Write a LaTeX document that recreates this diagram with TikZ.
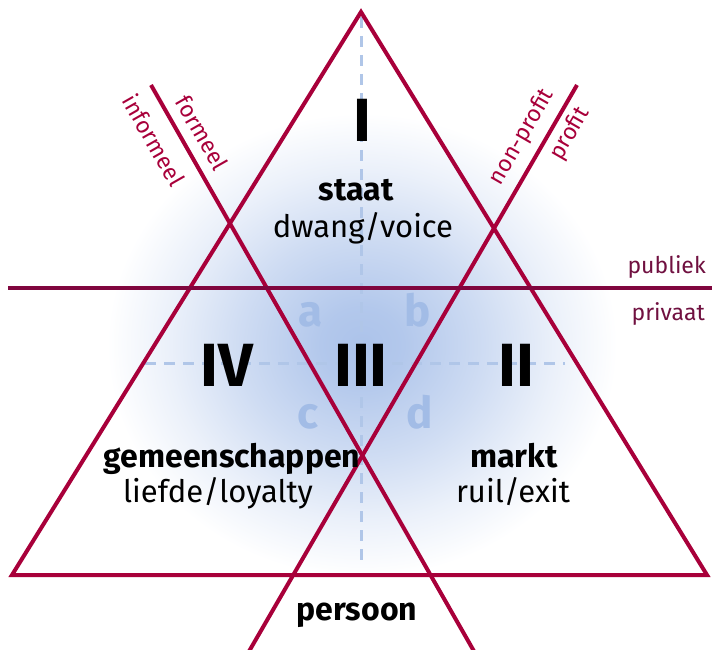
\documentclass[tikz,border=0pt]{standalone}
\usepackage{fontspec}
\setmainfont{Fira Sans}
\definecolor{crim}{RGB}{168,0,58}
\definecolor{hline}{RGB}{128,6,62}
\definecolor{labc}{RGB}{112,16,64}
\definecolor{dashc}{RGB}{176,198,232}
\definecolor{glowc}{RGB}{172,195,234}
\definecolor{letc}{RGB}{162,188,230}
\pgfdeclareradialshading{glow}{\pgfpoint{0bp}{0bp}}{color(0bp)=(glowc); color(4bp)=(glowc!92!white); color(12bp)=(glowc!58!white); color(19bp)=(glowc!24!white); color(25bp)=(white); color(50bp)=(white)}
\tikzset{
  tri/.style={draw=crim, line width=4pt, line join=miter},
  dashl/.style={draw=dashc, line width=3pt, dash pattern=on 11pt off 8pt},
  roman/.style={font=\fontsize{61}{61}\selectfont\bfseries, inner sep=0pt, anchor=base},
  abcd/.style={text=letc, font=\fontsize{44}{44}\selectfont\bfseries, inner sep=0pt, anchor=base},
  ttl/.style={font=\fontsize{32}{36}\selectfont\bfseries, inner sep=0pt, anchor=base},
  sub/.style={font=\fontsize{31}{36}\selectfont, inner sep=0pt, anchor=base},
  linelab/.style={text=crim, font=\fontsize{23}{26}\selectfont, inner sep=0pt},
  sidelab/.style={text=labc, font=\fontsize{23}{26}\selectfont, inner sep=0pt, anchor=base east}
}
\begin{document}
\begin{tikzpicture}[x=1pt,y=-1pt]
\useasboundingbox (0,0) rectangle (712,650);
\clip (0,0) rectangle (712,650);
% glow
\shade[shading=glow] (362,345) ellipse [x radius=255, y radius=232];
% coordinates
\coordinate (apex) at (361,12);
\coordinate (bl) at (12,575);
\coordinate (br) at (707,575);
\coordinate (f1) at (151,85);
\coordinate (f2) at (479,660);
\coordinate (p1) at (577,85);
\coordinate (p2) at (244,660);
\coordinate (h1) at (8,288);
\coordinate (h2) at (712,288);
\coordinate (v1) at (361,17);
\coordinate (v2) at (361,565);
\coordinate (d1) at (145,363);
\coordinate (d2) at (565,363);
% dashed axes
\draw[dashl] (v1) -- (v2);
\draw[dashl] (d1) -- (d2);
% light letters
\node[abcd] (la) at (311,326) {a};
\node[abcd] (lb) at (418,326) {b};
\node[abcd] (lc) at (308,428) {c};
\node[abcd] (ld) at (420,428) {d};
% lines
\draw[tri] (apex) -- (bl) -- (br) -- cycle;
\draw[tri] (f1) -- (f2);
\draw[tri] (p1) -- (p2);
\draw[draw=hline, line width=4pt] (h1) -- (h2);
% roman numerals
\node[roman] (nI) at (362,142) {I};
\node[roman] (nIV) at (227,386) {IV};
\node[roman] (nIII) at (361,386) {III};
\node[roman] (nII) at (516,386) {II};
% texts
\node[ttl] (staat) at (356,200) {staat};
\node[sub] (dwang) at (363,237) {dwang/voice};
\node[ttl] (gem) at (232,467) {gemeenschappen};
\node[sub] (liefde) at (218,502) {liefde/loyalty};
\node[ttl] (markt) at (514,467) {markt};
\node[sub] (ruil) at (513,502) {ruil/exit};
\node[ttl] (persoon) at (357,620) {persoon};
% line labels
\node[linelab, rotate=-60.3] (formeel) at (202,133) {formeel};
\node[linelab, rotate=-60.3] (informeel) at (154,140) {informeel};
\node[linelab, rotate=60] (nonprofit) at (522,137) {non-profit};
\node[linelab, rotate=60] (profit) at (570,134) {profit};
\node[sidelab] (publiek) at (706,273) {publiek};
\node[sidelab] (privaat) at (705,320) {privaat};
\end{tikzpicture}
\end{document}
